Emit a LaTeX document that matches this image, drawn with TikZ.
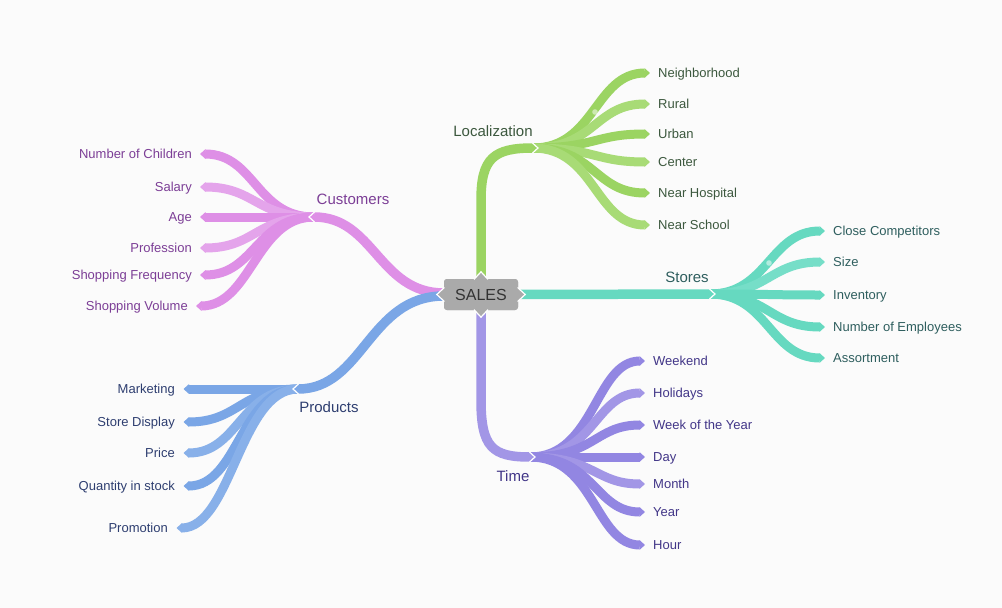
\documentclass[tikz,border=0pt]{standalone}
\usepackage{fontspec}
\setmainfont{Liberation Sans}
\usetikzlibrary{arrows.meta}
\definecolor{bgc}{RGB}{251,251,251}
\definecolor{gr}{RGB}{155,212,98}
\definecolor{grL}{RGB}{168,219,118}
\definecolor{grT}{RGB}{60,88,62}
\definecolor{pk}{RGB}{222,143,230}
\definecolor{pkL}{RGB}{228,164,235}
\definecolor{pkT}{RGB}{124,62,150}
\definecolor{bl}{RGB}{122,166,230}
\definecolor{blL}{RGB}{136,176,233}
\definecolor{blT}{RGB}{46,62,112}
\definecolor{tl}{RGB}{102,217,192}
\definecolor{tlL}{RGB}{118,222,200}
\definecolor{tlT}{RGB}{46,94,94}
\definecolor{pu}{RGB}{146,134,226}
\definecolor{puL}{RGB}{162,150,230}
\definecolor{puT}{RGB}{66,54,136}
\definecolor{boxg}{RGB}{170,170,170}
\definecolor{boxT}{RGB}{51,51,51}
\begin{document}
\begin{tikzpicture}[x=1pt,y=-1pt,
  br/.style={line width=9pt, -{Triangle[length=5.5pt,width=9.5pt]}},
  trunk/.style={line width=9.5pt, -{Triangle[length=5.5pt,width=9.5pt]}},
  leafR/.style={anchor=west, inner sep=0pt, text height=9.3pt, text depth=0pt, font=\fontsize{13}{15}\selectfont},
  leafL/.style={anchor=east, inner sep=0pt, text height=9.3pt, text depth=0pt, font=\fontsize{13}{15}\selectfont},
  cat/.style={inner sep=0pt, text height=10.7pt, text depth=0pt, font=\fontsize{15}{18}\selectfont},
  notch/.style={white, line width=1.2pt},
  tri/.style={fill=boxg, draw=white, line width=1.2pt, line join=miter}
  ]
\useasboundingbox (0,0) rectangle (1002,608);
\fill[bgc] (0,0) rectangle (1002,608);

% central node
\node[fill=boxg, rounded corners=3pt, minimum width=74pt, minimum height=31pt, inner sep=0pt,
      text=boxT, font=\fontsize{16}{19}\selectfont] (sales) at (481,294.5) {};

% hubs
\coordinate (L) at (538,148);  \coordinate (Lf) at (533,148);
\coordinate (S) at (715,294);  \coordinate (Sf) at (710,294);
\coordinate (T) at (535,457);  \coordinate (Tf) at (530,457);
\coordinate (C) at (309,217);  \coordinate (Cf) at (314,217);
\coordinate (P) at (293,389);  \coordinate (Pf) at (298,389);

% ---- Localization
\foreach \n/\y/\c/\t in {1/73/gr/Neighborhood, 2/104/grL/Rural, 3/134/gr/Urban, 4/162/grL/Center, 5/193/gr/Near Hospital, 6/225/grL/Near School}{
  \node[leafR, text=grT] (loc\n) at (658,\y) {\t};
  \draw[br, \c] (Lf) .. controls +(62,0) and +(-55,0) .. ([xshift=-8pt]loc\n.west);
}
\draw[trunk, gr] (sales.north) -- (481,200) .. controls (481,158) and (494,148) .. (L);
\draw[notch] ([shift={(-5.5,-5)}]L) -- (L) -- ([shift={(-5.5,5)}]L);
\fill[white, opacity=0.5] (595,112) circle (2.8pt);
\node[cat, text=grT] (loc) at (493,131) {Localization};

% ---- Stores
\foreach \n/\y/\c/\t in {1/231/tl/Close Competitors, 2/262/tlL/Size, 3/295/tl/Inventory, 4/327/tl/Number of Employees, 5/358/tl/Assortment}{
  \node[leafR, text=tlT] (st\n) at (833,\y) {\t};
  \draw[br, \c] (Sf) .. controls +(58,0) and +(-55,0) .. ([xshift=-8pt]st\n.west);
}
\draw[trunk, tl] (sales.east) -- (S);
\draw[notch] ([shift={(-5.5,-5)}]S) -- (S) -- ([shift={(-5.5,5)}]S);
\fill[white, opacity=0.5] (769,263) circle (2.8pt);
\node[cat, text=tlT] (sto) at (687,277) {Stores};

% ---- Time
\foreach \n/\y/\c/\t in {1/361/pu/Weekend, 2/393/puL/Holidays, 3/425/pu/Week of the Year, 4/457/pu/Day, 5/484/puL/Month, 6/512/pu/Year, 7/545/pu/Hour}{
  \node[leafR, text=puT] (ti\n) at (653,\y) {\t};
  \draw[br, \c] (Tf) .. controls +(65,0) and +(-50,0) .. ([xshift=-8pt]ti\n.west);
}
\draw[trunk, puL] (sales.south) -- (481,400) .. controls (481,447) and (492,457) .. (T);
\draw[notch] ([shift={(-5.5,-5)}]T) -- (T) -- ([shift={(-5.5,5)}]T);
\node[cat, text=puT] (tim) at (513,476) {Time};

% ---- Customers
\foreach \n/\y/\c/\t/\xe in {1/154/pk/Number of Children/192, 2/187/pkL/Salary/192, 3/217/pk/Age/192, 4/248/pkL/Profession/192, 5/275/pk/Shopping Frequency/192, 6/306/pk/Shopping Volume/188}{
  \node[leafL, text=pkT] (cu\n) at (\xe,\y) {\t};
  \draw[br, \c] (Cf) .. controls +(-58,0) and +(55,0) .. ([xshift=8pt]cu\n.east);
}
\draw[trunk, pk] ([yshift=1.5pt]sales.west) .. controls +(-65,0) and +(65,0) .. (C);
\draw[notch] ([shift={(5.5,-5)}]C) -- (C) -- ([shift={(5.5,5)}]C);
\node[cat, text=pkT] (cus) at (353,199) {Customers};

% ---- Products
\foreach \n/\y/\c/\t/\xe in {1/389/bl/Marketing/175, 2/422/bl/Store Display/175, 3/453/blL/Price/175, 4/486/bl/Quantity in stock/175, 5/528/blL/Promotion/168}{
  \node[leafL, text=blT] (pr\n) at (\xe,\y) {\t};
  \draw[br, \c] (Pf) .. controls +(-58,0) and +(55,0) .. ([xshift=8.5pt]pr\n.east);
}
\draw[trunk, bl] ([yshift=-1.5pt]sales.west) .. controls +(-75,0) and +(70,0) .. (P);
\draw[notch] ([shift={(5.5,-5)}]P) -- (P) -- ([shift={(5.5,5)}]P);
\node[cat, text=blT] (pro) at (329,407) {Products};

% ---- central box on top
\node[fill=boxg, rounded corners=3pt, minimum width=74pt, minimum height=31pt, inner sep=0pt,
      text=boxT, font=\fontsize{16}{19}\selectfont, text height=11.5pt, text depth=0pt] at (sales.center) {SALES};
\filldraw[tri] ([xshift=-7pt,yshift=-0.6pt]sales.north) -- ([yshift=7pt]sales.north) -- ([xshift=7pt,yshift=-0.6pt]sales.north);
\filldraw[tri] ([xshift=-7pt,yshift=0.6pt]sales.south) -- ([yshift=-7pt]sales.south) -- ([xshift=7pt,yshift=0.6pt]sales.south);
\filldraw[tri] ([yshift=7pt,xshift=0.6pt]sales.west) -- ([xshift=-7pt]sales.west) -- ([yshift=-7pt,xshift=0.6pt]sales.west);
\filldraw[tri] ([yshift=7pt,xshift=-0.6pt]sales.east) -- ([xshift=7pt]sales.east) -- ([yshift=-7pt,xshift=-0.6pt]sales.east);
\end{tikzpicture}
\end{document}
